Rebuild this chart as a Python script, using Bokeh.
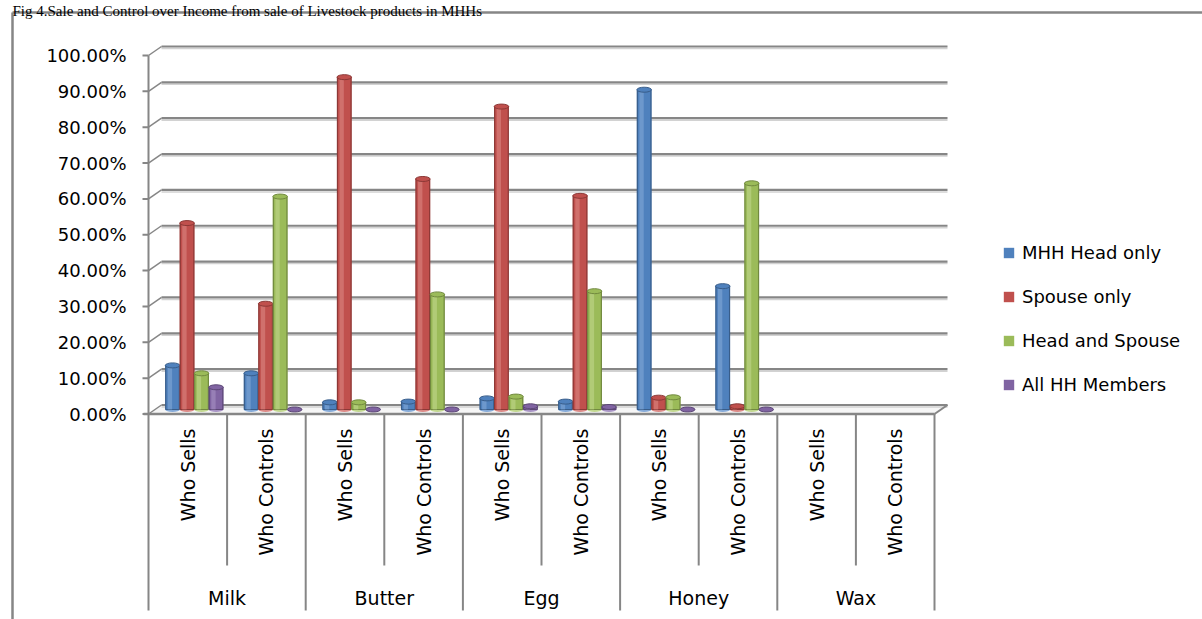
import math
from bokeh.plotting import figure
from bokeh.models import Range1d, ColumnDataSource, Legend, LegendItem
from bokeh.core.properties import value
from bokeh.embed import file_html
from bokeh.resources import INLINE

# ---- data -------------------------------------------------------------
products = ["Milk", "Butter", "Egg", "Honey", "Wax"]
roles = ["Who Sells", "Who Controls"]
series_names = ["MHH Head only", "Spouse only", "Head and Spouse", "All HH Members"]
nan = float("nan")
mhh_head_only = [12.3, 10.1, 2.0, 2.2, 3.1, 2.2, 89.2, 34.4, nan, nan]
spouse_only = [52.0, 29.5, 92.7, 64.3, 84.5, 59.6, 3.3, 0.9, nan, nan]
head_and_spouse = [10.1, 59.4, 2.0, 32.1, 3.6, 33.0, 3.4, 63.1, nan, nan]
all_hh_members = [6.2, 0.0, 0.0, 0.0, 0.9, 0.7, 0.0, 0.0, nan, nan]
y_ticks = [0, 10, 20, 30, 40, 50, 60, 70, 80, 90, 100]
title = "Fig 4.Sale and Control over Income from sale of Livestock products in MHHs"

series = [mhh_head_only, spouse_only, head_and_spouse, all_hh_members]
base_colors = ["#4F81BD", "#C0504D", "#9BBB59", "#8064A2"]
dark_colors = ["#385D8A", "#8C3836", "#71893F", "#5C4776"]
light_colors = ["#86ABD9", "#DC8A87", "#C2D890", "#A995C6"]

# ---- page geometry ----------------------------------------------------
W, H = 1202, 619
SX = 78.6          # pixels per category slot
SY = 3.585         # pixels per percentage point
X0, Y0 = 148, 413.5  # front origin of the plot box, in page pixels


def px_x(px):
    return (px - X0) / SX


def px_y(py):
    return (Y0 - py) / SY


DX = 13 / SX   # depth of the 3-D box
DY = 9 / SY
BW = 14.5 / SX  # one cylinder's width
CAP = 5 / SY    # height of the elliptical end caps

n_cat = len(products) * len(roles)
GRID = "#868686"
FONT = value("DejaVu Sans")

p = figure(width=W, height=H, x_range=Range1d(px_x(0), px_x(W)),
           y_range=Range1d(px_y(H), px_y(0)), min_border=0,
           toolbar_location=None, output_backend="svg",
           x_axis_location=None, y_axis_location=None)
p.grid.visible = False
p.outline_line_color = None
p.background_fill_color = "white"
p.border_fill_color = "white"

# ---- chart-area border and title ---------------------------------------
p.segment(x0=[px_x(12), px_x(12)], y0=[px_y(12), px_y(12)],
          x1=[px_x(12), px_x(W + 5)], y1=[px_y(H + 5), px_y(12)],
          line_color=GRID, line_width=2.5)
p.text(x=[px_x(12)], y=[px_y(10.5)], text=[title],
       text_font=value("Liberation Serif"), text_font_size=value("15px"),
       text_color="black", text_align="left", text_baseline="alphabetic")

# ---- floor of the 3-D box ----------------------------------------------
p.patch(x=[0, n_cat, n_cat + DX, DX], y=[0, 0, DY, DY],
        fill_color="#f6f6f6", line_color=None)

# ---- back-wall gridlines, side-wall diagonals and ticks ----------------
gx0 = [DX] * len(y_ticks)
gx1 = [n_cat + DX] * len(y_ticks)
gy = [t + DY for t in y_ticks]
p.segment(x0=gx0, y0=[g - 2 / SY for g in gy], x1=gx1,
          y1=[g - 2 / SY for g in gy], line_color="#d2d2d2", line_width=1.5)
p.segment(x0=gx0, y0=gy, x1=gx1, y1=gy, line_color=GRID, line_width=2.2)
p.segment(x0=[0] * len(y_ticks), y0=y_ticks, x1=gx0, y1=gy,
          line_color=GRID, line_width=1.5)
p.segment(x0=[px_x(X0 - 6)] * len(y_ticks), y0=y_ticks,
          x1=[0] * len(y_ticks), y1=y_ticks, line_color=GRID, line_width=2)
p.segment(x0=[0], y0=[0], x1=[0], y1=[max(y_ticks)], line_color=GRID,
          line_width=2)
p.segment(x0=[n_cat], y0=[0], x1=[n_cat + DX], y1=[DY], line_color=GRID,
          line_width=2)
p.text(x=[px_x(126)] * len(y_ticks), y=y_ticks,
       text=["%.2f%%" % t for t in y_ticks], text_font=FONT,
       text_font_size=value("18px"), text_color="black",
       text_align="right", text_baseline="middle")

# ---- cylinders -----------------------------------------------------------
body_renderers = []
for s, vals in enumerate(series):
    xs = [i + 0.5 + DX / 2 + (s - 1.5) * BW for i in range(n_cat)]
    # categories without data get no cylinder at all
    base = [nan if math.isnan(v) else DY / 2 for v in vals]
    tops = [DY / 2 + v for v in vals]
    src = ColumnDataSource(dict(x=xs, base=base, top=tops,
                                hl=[x - 0.18 * BW for x in xs]))
    p.ellipse(x="x", y="base", width=BW, height=CAP, source=src,
              fill_color=light_colors[s], line_color=None)
    body = p.vbar(x="x", bottom="base", top="top", width=BW, source=src,
                  fill_color=base_colors[s], line_color=None)
    p.vbar(x="x", bottom="base", top="top", width=BW * 0.94, source=src,
           fill_color=None, line_color=dark_colors[s], line_width=1.2)
    p.vbar(x="hl", bottom="base", top="top", width=BW * 0.3, source=src,
           fill_color=light_colors[s], fill_alpha=0.55, line_color=None)
    p.ellipse(x="x", y="top", width=BW, height=CAP, source=src,
              fill_color=base_colors[s], line_color=dark_colors[s],
              line_width=1)
    body_renderers.append(body)

# ---- category table under the floor --------------------------------------
p.segment(x0=[px_x(X0 - 5)], y0=[0], x1=[n_cat], y1=[0], line_color=GRID,
          line_width=2.5)
inner_bottom = px_y(565)
group_bottom = px_y(610)
div_x = list(range(n_cat + 1))
div_bottom = [group_bottom if k % 2 == 0 else inner_bottom for k in div_x]
p.segment(x0=div_x, y0=[0] * len(div_x), x1=div_x, y1=div_bottom,
          line_color=GRID, line_width=2)

role_x = [i + 0.5 for i in range(n_cat)]
role_text = [roles[i % 2] for i in range(n_cat)]
p.text(x=role_x, y=[px_y(428)] * n_cat, text=role_text, angle=math.pi / 2,
       text_font=FONT, text_font_size=value("19px"), text_color="black",
       text_align="right", text_baseline="middle")
p.text(x=[2 * g + 1 for g in range(len(products))],
       y=[px_y(597)] * len(products), text=products, text_font=FONT,
       text_font_size=value("19px"), text_color="black",
       text_align="center", text_baseline="middle")

# ---- legend --------------------------------------------------------------
legend = Legend(items=[LegendItem(label=n, renderers=[r])
                       for n, r in zip(series_names, body_renderers)],
                location=(1002, H - 395), orientation="vertical",
                padding=0, margin=0, spacing=23, glyph_width=13,
                glyph_height=13, label_standoff=7, label_height=20,
                label_text_font="DejaVu Sans", label_text_font_size="18px",
                label_text_color="black", border_line_color=None,
                background_fill_alpha=0)
p.add_layout(legend)

open("out.html", "w").write(file_html(p, INLINE))
